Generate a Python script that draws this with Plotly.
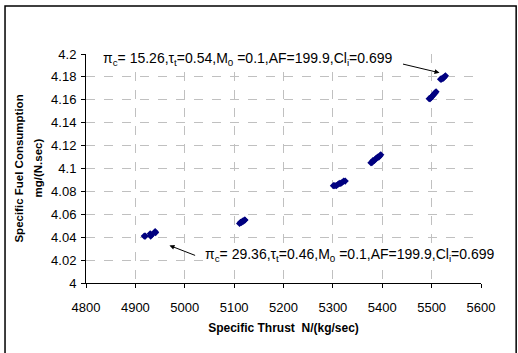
import plotly.graph_objects as go

# Data
thrust = [4918, 4920, 4930, 4931, 4933, 4940, 4941,
          5111, 5113, 5115, 5117, 5119, 5121, 5122,
          5301, 5304, 5307, 5310, 5313, 5316, 5319, 5322, 5325,
          5377, 5379, 5381, 5384, 5386, 5388, 5391, 5393, 5395, 5397,
          5495, 5497, 5499, 5501, 5503, 5505, 5507, 5509,
          5518, 5520, 5522, 5524, 5526, 5528]
sfc = [4.041, 4.041, 4.043, 4.041, 4.042, 4.045, 4.044,
       4.052, 4.053, 4.053, 4.054, 4.054, 4.055, 4.055,
       4.085, 4.085, 4.085, 4.086, 4.087, 4.087, 4.088, 4.089, 4.089,
       4.105, 4.105, 4.107, 4.107, 4.108, 4.109, 4.110, 4.110, 4.111, 4.112,
       4.161, 4.161, 4.162, 4.163, 4.164, 4.165, 4.166, 4.167,
       4.178, 4.178, 4.179, 4.179, 4.180, 4.181]

x_ticks = [4800, 4900, 5000, 5100, 5200, 5300, 5400, 5500, 5600]
y_ticks = [4.0, 4.02, 4.04, 4.06, 4.08, 4.1, 4.12, 4.14, 4.16, 4.18, 4.2]
y_ticktext = ["4", "4.02", "4.04", "4.06", "4.08", "4.1", "4.12", "4.14", "4.16", "4.18", "4.2"]

x_title = "Specific Thrust  N/(kg/sec)"
y_title_1 = "Specific Fuel Consumption"
y_title_2 = "mg/(N.sec)"

label_top = "π<sub>c</sub>= 15.26,τ<sub>t</sub>=0.54,M<sub>0</sub> =0.1,AF=199.9,Cl<sub>i</sub>=0.699"
label_bot = "π<sub>c</sub>= 29.36,τ<sub>t</sub>=0.46,M<sub>0</sub> =0.1,AF=199.9,Cl<sub>i</sub>=0.699"

FONT = "Liberation Sans, Arial, sans-serif"

fig = go.Figure()
fig.add_trace(go.Scatter(
    x=thrust, y=sfc, mode="markers",
    marker=dict(symbol="diamond", size=5.5, color="#000080", line=dict(width=0)),
    showlegend=False, cliponaxis=False))

grid = dict(showgrid=True, gridcolor="#c0c0c0", griddash="dash", gridwidth=1,
            zeroline=False, showline=True, linecolor="black", linewidth=1,
            ticks="outside", ticklen=4, tickcolor="black",
            tickfont=dict(family=FONT, size=13, color="black"))

fig.update_xaxes(range=[4800, 5600], tickvals=x_ticks, ticklabelstandoff=8, **grid,
                 title=dict(text="<b>" + x_title + "</b>",
                            font=dict(family=FONT, size=12, color="black"), standoff=10))
fig.update_yaxes(range=[4.0, 4.2], tickvals=y_ticks, ticktext=y_ticktext,
                 ticklabelstandoff=2, **grid)

# y-axis title as two rotated lines
fig.add_annotation(x=-0.172, y=0.5, xref="paper", yref="paper", text="<b>" + y_title_1 + "</b>",
                   textangle=-90, showarrow=False, xanchor="center", yanchor="middle",
                   font=dict(family=FONT, size=11.5, color="black"))
fig.add_annotation(x=-0.124, y=0.5, xref="paper", yref="paper", text="<b>" + y_title_2 + "</b>",
                   textangle=-90, showarrow=False, xanchor="center", yanchor="middle",
                   font=dict(family=FONT, size=11.5, color="black"))

# arrows
fig.add_annotation(x=5516, y=4.1836, ax=5439, ay=4.1915, xref="x", yref="y",
                   axref="x", ayref="y", text="", showarrow=True,
                   arrowhead=2, arrowsize=1, arrowwidth=1, arrowcolor="black")
fig.add_annotation(x=4969, y=4.0328, ax=5024, ay=4.0236, xref="x", yref="y",
                   axref="x", ayref="y", text="", showarrow=True,
                   arrowhead=2, arrowsize=1, arrowwidth=1, arrowcolor="black")
# labels
fig.add_annotation(x=4831, y=4.196, xref="x", yref="y", text=label_top, showarrow=False,
                   xanchor="left", yanchor="middle", bgcolor="white",
                   font=dict(family=FONT, size=14, color="black"))
fig.add_annotation(x=5036, y=4.0245, xref="x", yref="y", text=label_bot, showarrow=False,
                   xanchor="left", yanchor="middle", bgcolor="white",
                   font=dict(family=FONT, size=14, color="black"))

# outer frame (bottom edge lies just outside the picture)
fig.add_shape(type="rect", xref="paper", yref="paper",
              x0=-0.205, x1=1.089, y0=-0.32, y1=1.21,
              line=dict(color="black", width=1.5), fillcolor="rgba(0,0,0,0)")

fig.update_layout(width=518, height=353,
                  margin=dict(l=86, r=37, t=54, b=70),
                  paper_bgcolor="white", plot_bgcolor="white",
                  font=dict(family=FONT, color="black"))

fig.write_html("out.html")
